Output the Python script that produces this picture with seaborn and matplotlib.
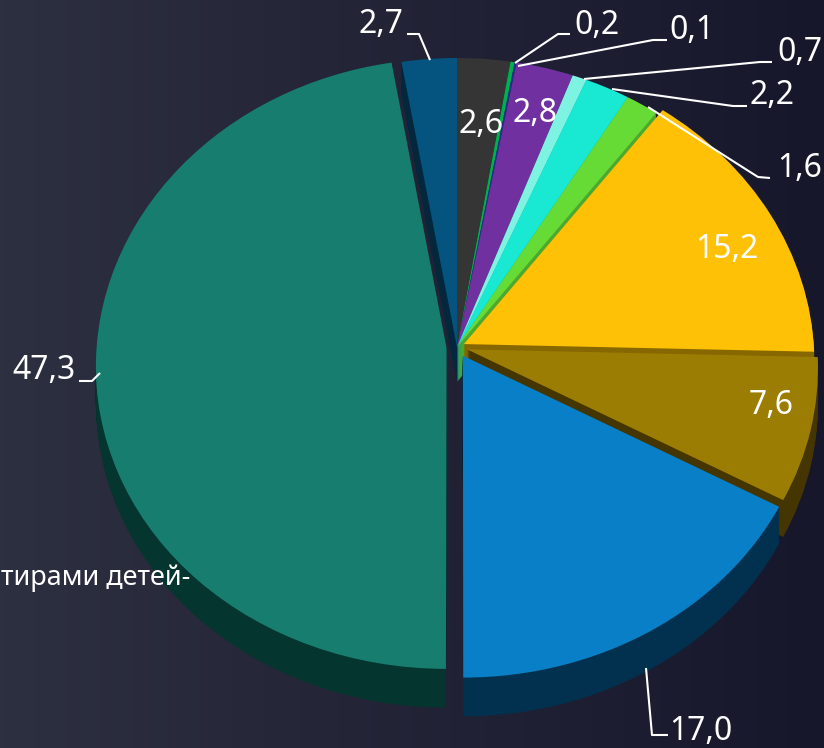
import numpy as np
import matplotlib
matplotlib.use("Agg")
import matplotlib.pyplot as plt
from matplotlib.transforms import Transform
import seaborn as sns

# ==========================
# DATA
# ==========================

values = [2.6, 0.2, 0.1, 2.8, 0.7, 2.2, 1.6, 15.2, 7.6, 17.0, 47.3, 2.7]
top_colors = ["#353535", "#00b050", "#1f2f8a", "#7030a0", "#7ff3e2", "#19e8d3",
              "#66db36", "#fec106", "#9c7d03", "#087fc6", "#177d6f", "#04547f"]
side_colors = ["#222222", "#007a38", "#141f5c", "#3f1b5c", "#58a89c", "#12a496",
               "#4da82e", "#876700", "#453500", "#02304f", "#04352f", "#03283e"]
explode = [0, 0, 0, 0, 0, 0, 0, 0.022, 0.03, 0.033, 0.03, 0]

# label centre in pixels, one per value
label_pos = [(481, 124), (597, 25), (692, 30), (535, 113), (800, 52), (772, 95),
             (800, 168), (727, 249), (771, 405), (701, 731), (44, 370), (381, 24)]

leaders = [
    [(570, 34), (558, 34), (515, 63)],
    [(667, 40), (653, 40), (518, 66)],
    [(772, 62), (760, 62), (584, 79)],
    [(747, 106), (733, 106), (612, 89)],
    [(770, 178), (758, 177), (648, 107)],
    [(668, 735), (652, 735), (646, 668)],
    [(79, 381), (92, 381), (100, 373)],
    [(407, 34), (419, 34), (430, 60)],
]

cut_text = "тирами детей-"

# ==========================
# GEOMETRY
# ==========================

W, H = 824, 748
CX, CY = 457, 347
RX = 350
DEPTH = 35


def fwd(y):
    # top of the pie is further away, so squeezed a bit
    return 305 * y - 16 * y * y


def inv(p):
    return (305 - np.sqrt(np.maximum(305 ** 2 - 64 * p, 0))) / 32


class Narrow(Transform):
    # same idea for the width: narrower at the back, wider at the front
    input_dims = 2
    output_dims = 2

    def __init__(self, yc=0.0):
        super().__init__()
        self.yc = yc

    def transform_non_affine(self, pts):
        pts = np.asarray(pts, dtype=float)
        s = 1 - 0.06 * (pts[:, 1] - self.yc)
        return np.column_stack([pts[:, 0] * s, pts[:, 1]])


sns.set_theme(style="dark")
plt.rcParams["font.family"] = ["Noto Sans", "DejaVu Sans"]

fig = plt.figure(figsize=(W / 100, H / 100), dpi=100)

# background
ax_bg = fig.add_axes([0, 0, 1, 1])
cmap = sns.blend_palette(["#2d3041", "#17172b"], 256, as_cmap=True)
ax_bg.imshow(np.linspace(0, 1, 256).reshape(1, -1), aspect="auto", cmap=cmap)
ax_bg.set_axis_off()

# pie
ax = fig.add_axes([0, 0, 1, 1])
ax.patch.set_visible(False)

layers = []
for k in np.arange(DEPTH, 0, -1.0):
    yc = float(inv(-k))
    w, _ = ax.pie(values, colors=side_colors, explode=explode, startangle=90,
                  counterclock=False, center=(0, yc), radius=1,
                  wedgeprops={"linewidth": 0}, normalize=True)
    layers.append((yc, w))

w, _ = ax.pie(values, colors=top_colors, explode=explode, startangle=90,
              counterclock=False, center=(0, 0), radius=1,
              wedgeprops={"linewidth": 0}, normalize=True)
layers.append((0.0, w))

ax.set_aspect("auto")
ax.set_yscale("function", functions=(fwd, inv))
ax.set_xlim(-CX / RX, (W - CX) / RX)
ax.set_ylim(float(inv(CY - H)), float(inv(CY)))
ax.set_axis_off()

for yc, w in layers:
    for p in w:
        p.set_transform(Narrow(yc) + ax.transData)

# labels and leader lines
ax_top = fig.add_axes([0, 0, 1, 1])
ax_top.patch.set_visible(False)
ax_top.set_xlim(0, W)
ax_top.set_ylim(H, 0)
ax_top.set_axis_off()

for line in leaders:
    xs, ys = zip(*line)
    ax_top.plot(xs, ys, color="white", lw=1.5, solid_capstyle="butt")

for v, (x, y) in zip(values, label_pos):
    ax_top.text(x, y, f"{v:.1f}".replace(".", ","), color="white", fontsize=23,
                ha="center", va="center")

ax_top.text(1, 578, cut_text, color="white", fontsize=19.5, ha="left", va="center")

fig.savefig("out.png", dpi=100)
plt.close(fig)
